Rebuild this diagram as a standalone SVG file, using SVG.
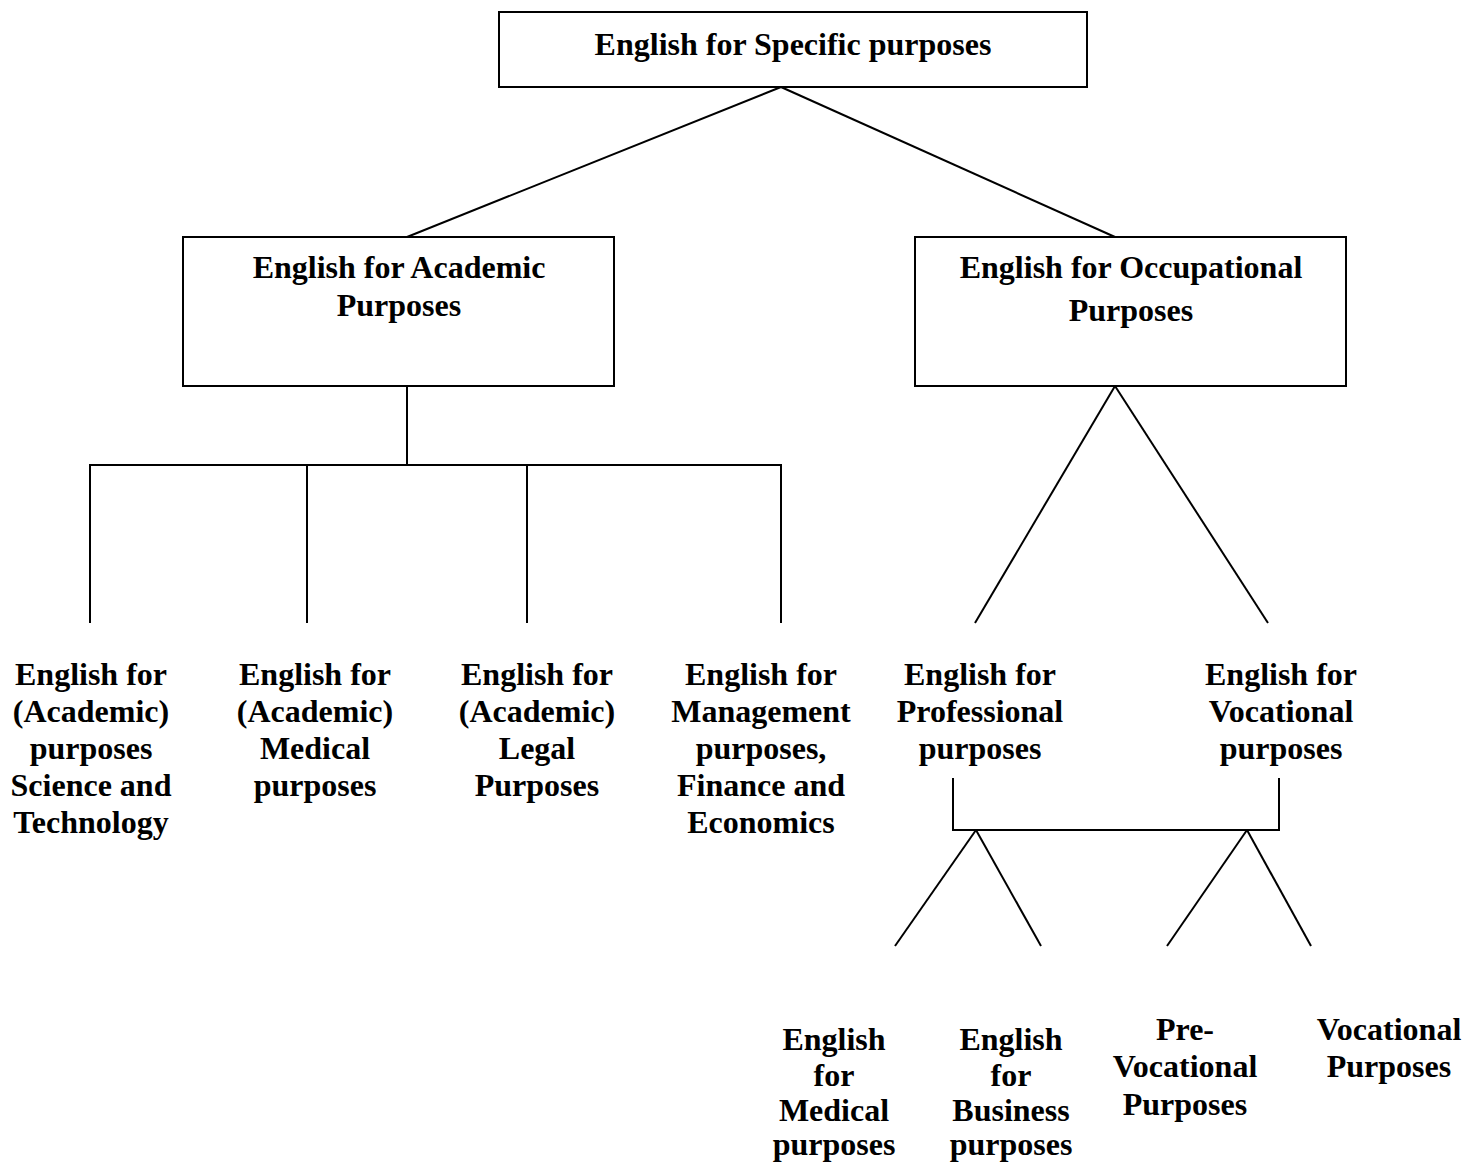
<svg xmlns="http://www.w3.org/2000/svg" width="1467" height="1164" viewBox="0 0 1467 1164">
<style>
.box{fill:#fff;stroke:#000;stroke-width:2}
.ln{stroke:#000;stroke-width:2;fill:none}
text{font-family:"Liberation Serif","Times New Roman",serif;font-weight:bold;font-size:32px;fill:#000;text-anchor:middle}
</style>
<rect width="1467" height="1164" fill="#fff"/>
<g id="connectors">
<line class="ln" x1="781" y1="87" x2="407" y2="237"/>
<line class="ln" x1="781" y1="87" x2="1115" y2="237"/>
<line class="ln" x1="407" y1="386" x2="407" y2="465"/>
<line class="ln" x1="89" y1="465" x2="782" y2="465"/>
<line class="ln" x1="90" y1="465" x2="90" y2="623"/>
<line class="ln" x1="307" y1="465" x2="307" y2="623"/>
<line class="ln" x1="527" y1="465" x2="527" y2="623"/>
<line class="ln" x1="781" y1="465" x2="781" y2="623"/>
<line class="ln" x1="1115" y1="386" x2="975" y2="623"/>
<line class="ln" x1="1115" y1="386" x2="1268" y2="623"/>
<polyline class="ln" points="953,778 953,830 1279,830 1279,778"/>
<line class="ln" x1="976" y1="830" x2="895" y2="946"/>
<line class="ln" x1="976" y1="830" x2="1041" y2="946"/>
<line class="ln" x1="1247" y1="830" x2="1167" y2="946"/>
<line class="ln" x1="1247" y1="830" x2="1311" y2="946"/>
</g>
<g id="esp">
<rect class="box" x="499" y="12" width="588" height="75"/>
<text x="793" y="55">English for Specific purposes</text>
</g>
<g id="eap">
<rect class="box" x="183" y="237" width="431" height="149"/>
<text x="399" y="278">English for Academic</text>
<text x="399" y="316">Purposes</text>
</g>
<g id="eop">
<rect class="box" x="915" y="237" width="431" height="149"/>
<text x="1131" y="278">English for Occupational</text>
<text x="1131" y="321">Purposes</text>
</g>
<g id="est">
<text x="91" y="685">English for</text>
<text x="91" y="722">(Academic)</text>
<text x="91" y="759">purposes</text>
<text x="91" y="796">Science and</text>
<text x="91" y="833">Technology</text>
</g>
<g id="emed-acad">
<text x="315" y="685">English for</text>
<text x="315" y="722">(Academic)</text>
<text x="315" y="759">Medical</text>
<text x="315" y="796">purposes</text>
</g>
<g id="elegal">
<text x="537" y="685">English for</text>
<text x="537" y="722">(Academic)</text>
<text x="537" y="759">Legal</text>
<text x="537" y="796">Purposes</text>
</g>
<g id="emgmt">
<text x="761" y="685">English for</text>
<text x="761" y="722">Management</text>
<text x="761" y="759">purposes,</text>
<text x="761" y="796">Finance and</text>
<text x="761" y="833">Economics</text>
</g>
<g id="eprof">
<text x="980" y="685">English for</text>
<text x="980" y="722">Professional</text>
<text x="980" y="759">purposes</text>
</g>
<g id="evoc">
<text x="1281" y="685">English for</text>
<text x="1281" y="722">Vocational</text>
<text x="1281" y="759">purposes</text>
</g>
<g id="emed">
<text x="834" y="1050">English</text>
<text x="834" y="1086">for</text>
<text x="834" y="1121">Medical</text>
<text x="834" y="1155">purposes</text>
</g>
<g id="ebus">
<text x="1011" y="1050">English</text>
<text x="1011" y="1086">for</text>
<text x="1011" y="1121">Business</text>
<text x="1011" y="1155">purposes</text>
</g>
<g id="prevoc">
<text x="1185" y="1040">Pre-</text>
<text x="1185" y="1077">Vocational</text>
<text x="1185" y="1115">Purposes</text>
</g>
<g id="vocp">
<text x="1389" y="1040">Vocational</text>
<text x="1389" y="1077">Purposes</text>
</g>
</svg>
